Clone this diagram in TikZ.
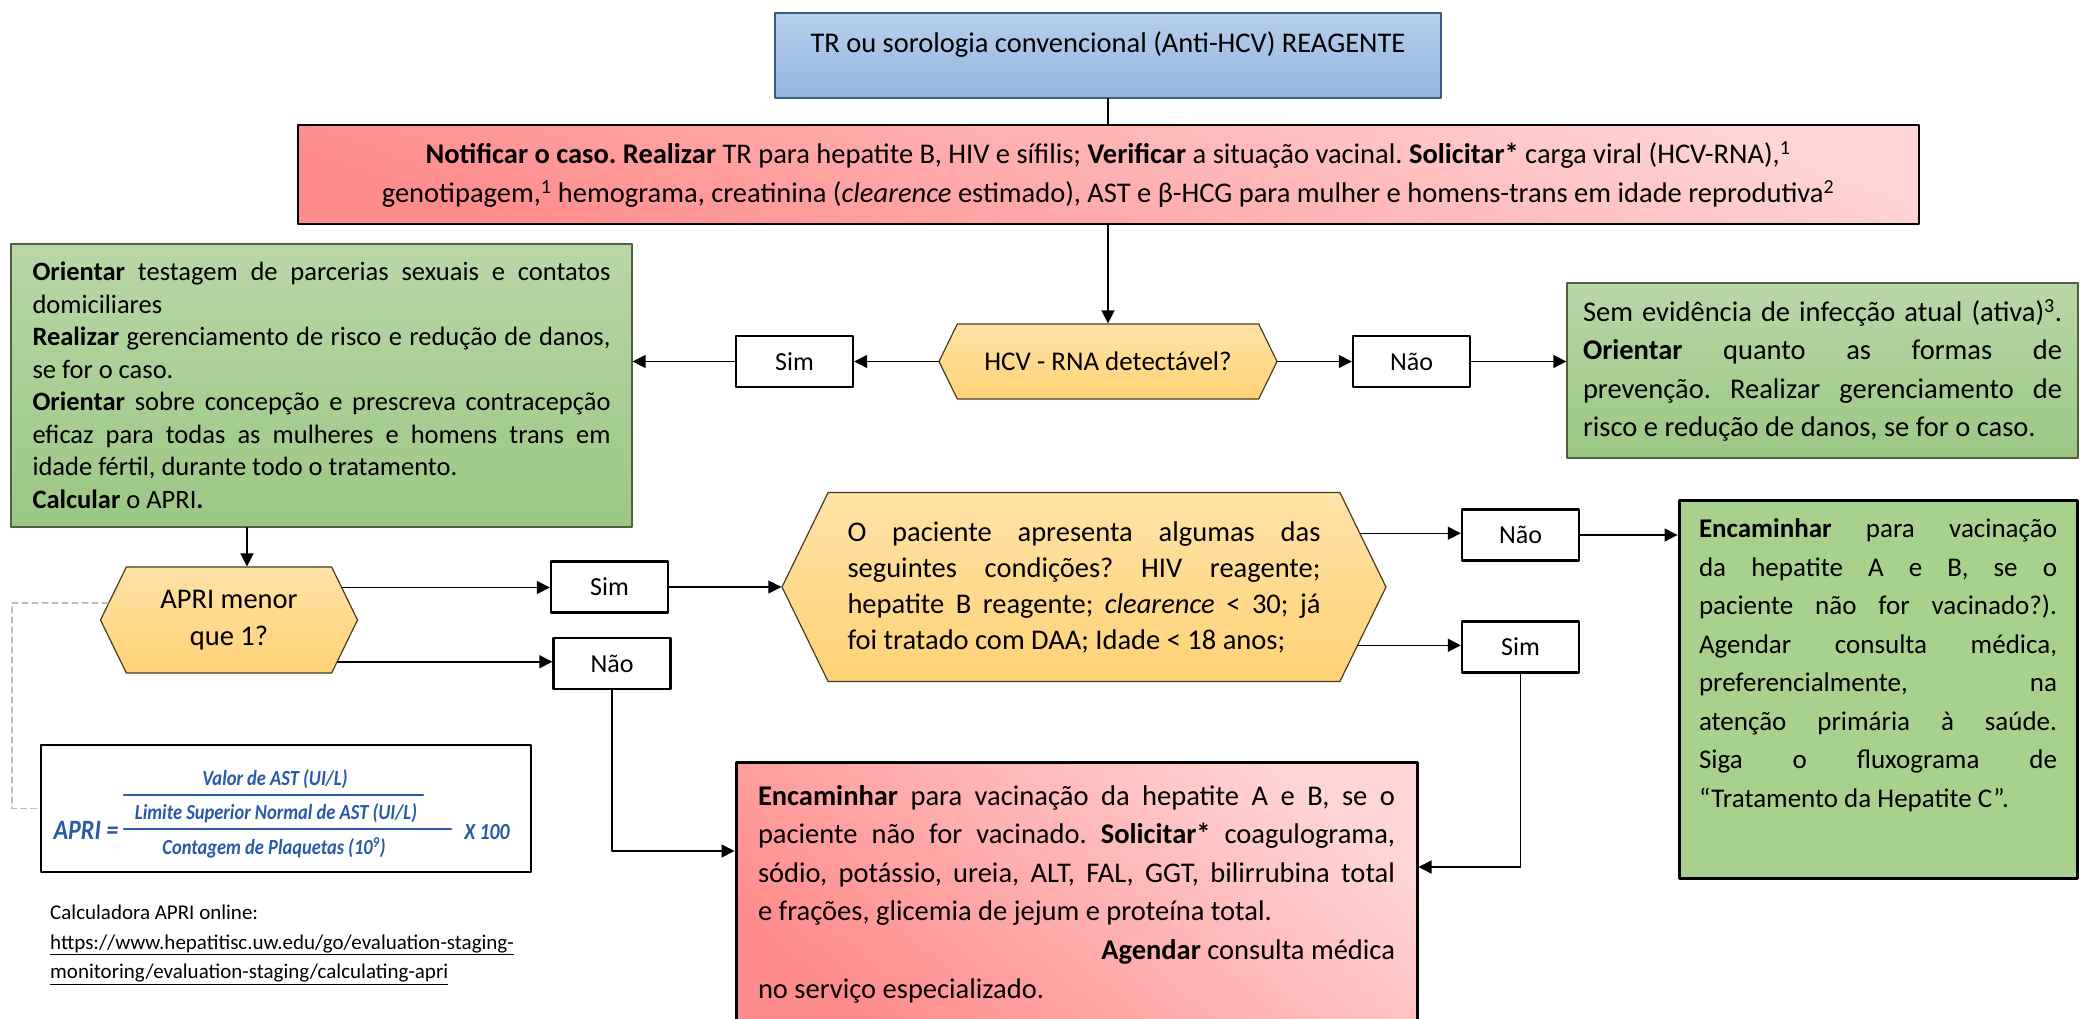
\documentclass[tikz,border=0pt]{standalone}
\usepackage{fontspec}
\setmainfont{Carlito}
\newfontfamily\formulafont{Carlito}[FakeStretch=0.86]
\usetikzlibrary{arrows.meta,shapes.symbols}
\frenchspacing

\definecolor{boxblue}{RGB}{184,207,234}
\definecolor{boxbluedk}{RGB}{146,180,224}
\definecolor{boxblueline}{RGB}{56,93,138}
\definecolor{pinklight}{RGB}{255,212,212}
\definecolor{pinkdark}{RGB}{255,140,140}
\definecolor{greenlight}{RGB}{184,215,168}
\definecolor{greendark}{RGB}{155,199,132}
\definecolor{greenline}{RGB}{78,96,62}
\definecolor{greenflat}{RGB}{169,209,142}
\definecolor{hexlight}{RGB}{255,226,166}
\definecolor{hexdark}{RGB}{255,210,118}
\definecolor{hexline}{RGB}{70,60,35}
\definecolor{apriblue}{RGB}{40,90,168}

\begin{document}
\begin{tikzpicture}[x=1pt,y=-1pt,line cap=round,line join=round,
    arr/.style={-{Triangle[length=13pt,width=13pt]},line width=1.5pt},
    link/.style={line width=1.5pt},
    dashlink/.style={gray!50,dash pattern=on 6pt off 4pt,line width=1.3pt},
    body/.style={font=\fontsize{28.5}{38.6}\selectfont},
    justified/.style={align=justify,
        execute at begin node={\sloppy\hyphenpenalty=10000\exhyphenpenalty=10000}},
    bluebox/.style={draw=boxblueline,line width=1.5pt,top color=boxblue,bottom color=boxbluedk},
    pinkbox/.style={draw=black,line width=2pt,top color=pinklight,bottom color=pinkdark,shading angle=-20},
    greenbox/.style={draw=greenline,line width=1.3pt,top color=greenlight,bottom color=greendark},
    finalbox/.style={draw=black,line width=3pt,fill=greenflat},
    hexbox/.style={signal,signal to=east and west,signal pointer angle=128,draw=hexline,
        line width=1.2pt,top color=hexlight,bottom color=hexdark,inner sep=0pt},
    choicebox/.style={draw=black,line width=2.4pt,fill=white,minimum width=117pt,
        minimum height=51pt,inner sep=0pt,font=\fontsize{26}{30}\selectfont},
    formtxt/.style={text=apriblue,inner sep=0pt,font=\formulafont\bfseries\itshape\fontsize{21.5}{24}\selectfont}]

    \useasboundingbox (0,0) rectangle (2080,1019);
    \clip (0,0) rectangle (2080,1019);
    \fill[white] (0,0) rectangle (2080,1019);

    % Entrada e primeira conduta
    \node[bluebox,body,minimum width=666pt,minimum height=85pt,inner ysep=10pt,
          text height=30pt,text depth=35pt] (reagente) at (1108,55.5)
        {TR ou sorologia convencional (Anti-HCV) REAGENTE};
    \node[pinkbox,body,align=center,minimum width=1621pt,minimum height=99pt,
          font=\fontsize{28.5}{39}\selectfont] (notificar) at (1108,174.5)
        {\textbf{Notificar o caso. Realizar} TR para hepatite B, HIV e sífilis; \textbf{Verificar} a situação vacinal. \textbf{Solicitar*} carga viral (HCV-RNA),\textsuperscript{1}\\
         genotipagem,\textsuperscript{1} hemograma, creatinina (\textit{clearence} estimado), AST e β-HCG para mulher e homens-trans em idade reprodutiva\textsuperscript{2}};

    % Primeira decisao
    \node[hexbox,minimum width=338pt,minimum height=75pt,font=\fontsize{27}{32}\selectfont]
        (hcv) at (1108,361.5) {HCV - RNA detectável?};
    \node[choicebox] (sim1) at (794.5,361.5) {Sim};
    \node[choicebox] (nao1) at (1411.5,361.5) {Não};

    \node[greenbox,justified,text width=578pt,minimum width=621pt,minimum height=283pt,
          inner sep=0pt,font=\fontsize{26.5}{32.5}\selectfont] (orientar) at (321.5,385.5)
        {\textbf{Orientar} testagem de parcerias sexuais e contatos\linebreak domiciliares\par
         \textbf{Realizar} gerenciamento de risco e redução de danos,\linebreak se for o caso.\par
         \textbf{Orientar} sobre concepção e prescreva contracepção\linebreak eficaz para todas as mulheres e homens trans em\linebreak idade fértil, durante todo o tratamento.\par
         \textbf{Calcular} o APRI\textbf{.}};
    \node[greenbox,body,justified,text width=479pt,minimum width=511pt,minimum height=175pt,
          inner sep=0pt] (semevid) at (1822.5,370.5)
        {Sem evidência de infecção atual (ativa)\textsuperscript{3}.\linebreak \textbf{Orientar} quanto as formas de\linebreak prevenção. Realizar gerenciamento de\linebreak risco e redução de danos, se for o caso.};

    % APRI e condicoes do paciente
    \node[hexbox,body,align=center,minimum width=257pt,minimum height=106pt,
          font=\fontsize{28.5}{37}\selectfont] (apri) at (229,620) {APRI menor\\que 1?};
    \node[choicebox] (sim2) at (609.5,587) {Sim};
    \node[choicebox] (nao2) at (612,663.5) {Não};
    \node[hexbox,justified,text width=473pt,minimum width=604pt,minimum height=189pt,
          font=\fontsize{28.5}{36}\selectfont] (condicoes) at (1084,587)
        {O paciente apresenta algumas das\linebreak seguintes condições? HIV reagente;\linebreak hepatite B reagente; \textit{clearence} < 30; já\linebreak foi tratado com DAA; Idade < 18 anos;};
    \node[choicebox] (nao3) at (1520.5,535) {Não};
    \node[choicebox] (sim3) at (1520.5,647) {Sim};

    \node[finalbox,minimum width=398pt,minimum height=378pt,inner sep=0pt,
          font=\fontsize{27}{38.5}\selectfont] (tratamento) at (1878,689)
        {\parbox[c][340pt][t]{358pt}{\sloppy\hyphenpenalty=10000
         \textbf{Encaminhar} para vacinação\linebreak da hepatite A e B, se o\linebreak paciente não for vacinado?).\linebreak Agendar consulta médica,\linebreak preferencialmente, na\linebreak atenção primária à saúde.\linebreak Siga o fluxograma de\linebreak \mbox{“Tratamento da Hepatite C”.}}};
    \node[pinkbox,body,line width=3pt,shading angle=-40,minimum width=681pt,
          minimum height=268pt,inner sep=0pt] (especializado) at (1076.5,896)
        {\parbox[c][222pt][t]{637pt}{\sloppy\hyphenpenalty=10000
         \textbf{Encaminhar} para vacinação da hepatite A e B, se o\linebreak paciente não for vacinado. \textbf{Solicitar*} coagulograma,\linebreak sódio, potássio, ureia, ALT, FAL, GGT, bilirrubina total\linebreak e frações, glicemia de jejum e proteína total.\par
         \hfill\textbf{Agendar} consulta médica\par
         no serviço especializado.}};

    % Formula do APRI
    \node[draw=black,line width=1.8pt,fill=white,minimum width=490pt,minimum height=127pt]
        (formula) at (286,808.5) {};
    \node[formtxt] (valor) at (275,779) {Valor de AST (UI/L)};
    \node[formtxt] (limite) at (276,813) {Limite Superior Normal de AST (UI/L)};
    \node[formtxt] (contagem) at (274,848) {Contagem de Plaquetas (10\textsuperscript{9})};
    \node[formtxt,font=\formulafont\bfseries\itshape\fontsize{28}{30}\selectfont]
        (aprieq) at (86,830) {APRI =};
    \node[formtxt,font=\formulafont\bfseries\itshape\fontsize{23}{26}\selectfont]
        (vezes) at (487,832) {X 100};
    \draw[apriblue,line width=2.6pt] (124,795) -- (423,795);
    \draw[apriblue,line width=2.6pt] (124,829) -- (451,829);

    \node[anchor=north west,align=left,inner sep=0pt,font=\fontsize{21}{29.5}\selectfont]
        (calculadora) at (50,905)
        {Calculadora APRI online:\\
         \underline{https://www.hepatitisc.uw.edu/go/evaluation-staging-}\\
         \underline{monitoring/evaluation-staging/calculating-apri}};

    % Ligacoes
    \draw[link] (reagente.south) -- (notificar.north);
    \draw[arr] (notificar.south) -- (hcv.north);
    \draw[arr] (hcv.west) -- (sim1.east);
    \draw[arr] (sim1.west) -- (sim1.west -| orientar.east);
    \draw[arr] (hcv.east) -- (nao1.west);
    \draw[arr] (nao1.east) -- (nao1.east -| semevid.west);
    \draw[arr] ([xshift=18pt]apri.north |- orientar.south) -- ([xshift=18pt]apri.north);
    \draw[dashlink] (apri.172) -- ++(-96,0) |- (formula.west);
    \draw[arr] (apri.16) -- (apri.16 -| sim2.west);
    \draw[arr] (apri.-21) -- (apri.-21 -| nao2.west);
    \draw[arr] (sim2.east) -- (condicoes.west);
    \draw[arr] (nao2.south) |- ([yshift=45pt]especializado.west);
    \draw[arr] (condicoes.11) -- (condicoes.11 -| nao3.west);
    \draw[arr] (condicoes.-12) -- (condicoes.-12 -| sim3.west);
    \draw[arr] (nao3.east) -- (nao3.east -| tratamento.west);
    \draw[arr] (sim3.south) |- ([yshift=29pt]especializado.east);
\end{tikzpicture}
\end{document}
